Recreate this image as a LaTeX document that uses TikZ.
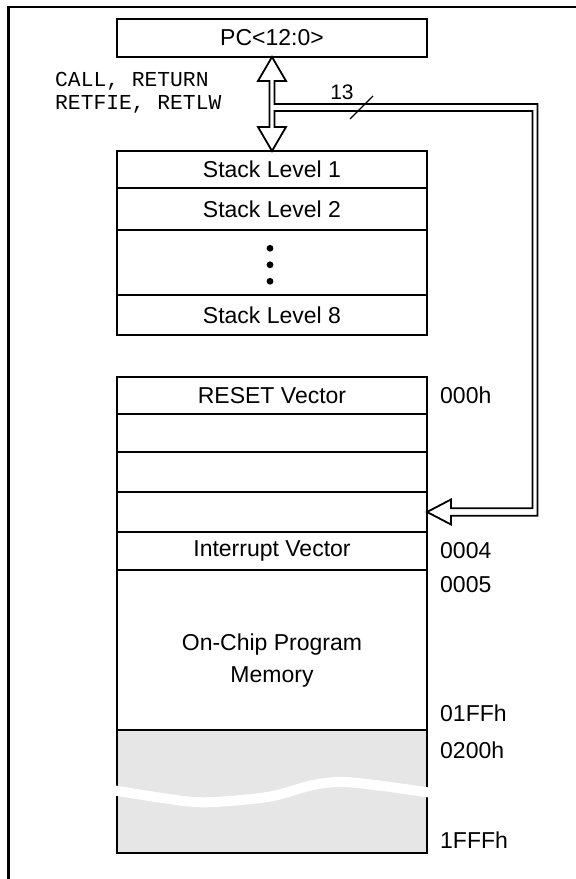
\documentclass[tikz,border=0pt]{standalone}
\usepackage{fontspec}
\setmainfont{Liberation Sans}
\setmonofont{Liberation Mono}
\usepackage{xcolor}
\definecolor{lgray}{RGB}{230,230,230}
\usetikzlibrary{positioning, calc}
\tikzstyle{Row} = [
draw,
line width=2pt,
minimum width=310pt,
inner sep=0pt,
outer sep=0pt,
font=\fontsize{23}{26}\selectfont]
\tikzstyle{Addr} = [
anchor=west,
inner sep=0pt,
font=\fontsize{23}{26}\selectfont]
\tikzstyle{Bus} = [
line width=1.8pt,
line join=miter]

\begin{document}
\begin{tikzpicture}[x=1pt, y=1pt, node distance=0pt]
    \useasboundingbox (0,0) rectangle (576,879);
    \draw[line width=2.3pt] (8.5,-5) -- (8.5,872) -- (580,872);

    % program counter and stack
    \node [Row, minimum height=38pt] (pc) at (272,841) {PC<12:0>};
    \node [Row, minimum height=37pt] (s1) at (272,709.5) {Stack Level 1};
    \node [Row, minimum height=42pt, below =of s1] (s2) {Stack Level 2};
    \node [Row, minimum height=65pt, below =of s2] (s3) {};
    \node [Row, minimum height=40pt, below =of s3] (s8) {Stack Level 8};
    \foreach \d in {14.2,-2.3,-18.8}
        \fill ($(s3.center)+(-2,\d)$) circle (3.4pt);

    % program memory
    \node [Row, minimum height=37pt] (m1) at (272,483.5) {RESET Vector};
    \node [Row, minimum height=38pt, below =of m1] (m2) {};
    \node [Row, minimum height=40pt, below =of m2] (m3) {};
    \node [Row, minimum height=40pt, below =of m3] (m4) {};
    \node [Row, minimum height=38pt, below =of m4] (m5) {Interrupt Vector};
    \node [Row, minimum height=160pt, below =of m5] (m6) {};
    \node [Row, minimum height=123pt, fill=lgray, below =of m6] (m7) {};
    \node [align=center, font=\fontsize{23}{32}\selectfont] (m6t)
        at ($(m6.center)+(0,-11)$) {On-Chip Program\\Memory};
    \draw[white, line width=10pt] plot[smooth] coordinates
        {(112,89) (190,77.3) (233,78.3) (273,83) (313,94) (343,97) (383,93) (432,86)};

    % addresses
    \node [Addr, right=13pt of m1] (a1) {000h};
    \node [Addr, right=13pt of m5] (a2) {0004};
    \node [Addr] (a3) at ($(m6.north east)+(13,-15)$) {0005};
    \node [Addr] (a4) at ($(m6.south east)+(13,17)$) {01FFh};
    \node [Addr] (a5) at ($(m7.north east)+(13,-20)$) {0200h};
    \node [Addr] (a6) at ($(m7.south east)+(13,13)$) {1FFFh};

    % bus from PC to stack and memory
    \draw[Bus] (m4.east) -- ++(24,-12.5) -- ++(0,8.75) -- ++(86.5,0) -- ++(0,411.75)
        -- ++(-263,0) -- ++(0,23) -- ++(11.5,0) -- (pc.south) -- ++(-14,-24)
        -- ++(11.5,0) -- ++(0,-46) -- ++(-11.5,0) -- (s1.north) -- ++(14,24)
        -- ++(-11.5,0) -- ++(0,16) -- ++(258,0) -- ++(0,-397.25) -- ++(-81.5,0)
        -- ++(0,8.75) -- cycle;
    \node [anchor=west, inner sep=0pt, align=left,
        font=\ttfamily\fontsize{21.3}{23}\selectfont] (cr) at (55,786)
        {CALL, RETURN\\RETFIE, RETLW};
    \node [inner sep=0pt, font=\fontsize{21}{24}\selectfont] (w) at (342,787) {13};
    \draw[line width=1.2pt] (350,760) -- (373,783);
\end{tikzpicture}
\end{document}
